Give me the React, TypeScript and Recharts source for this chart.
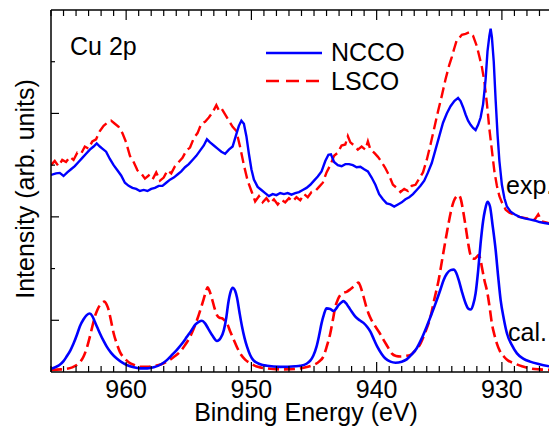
import React from 'react';
import { LineChart, Line, XAxis, YAxis, Customized } from 'recharts';

// binding energy (eV) / intensity pairs
const nccoExpE = [966.0, 965.6, 965.3, 965.0, 964.7, 964.4, 964.1, 963.8, 963.5, 963.2, 962.9, 962.6, 962.35, 962.1, 961.9, 961.6, 961.3, 961.0, 960.7, 960.4, 960.1, 959.8, 959.5, 959.2, 958.9, 958.6, 958.3, 958.0, 957.7, 957.4, 957.1, 956.8, 956.5, 956.2, 955.9, 955.6, 955.3, 955.0, 954.7, 954.4, 954.1, 953.8, 953.55, 953.3, 953.0, 952.7, 952.4, 952.1, 951.8, 951.5, 951.25, 951.0, 950.8, 950.6, 950.4, 950.2, 950.0, 949.8, 949.5, 949.2, 948.9, 948.6, 948.3, 948.0, 947.7, 947.4, 947.1, 946.8, 946.5, 946.2, 945.9, 945.6, 945.3, 945.0, 944.7, 944.4, 944.1, 943.85, 943.65, 943.4, 943.1, 942.8, 942.5, 942.2, 941.9, 941.6, 941.3, 941.0, 940.7, 940.4, 940.1, 939.8, 939.5, 939.2, 938.9, 938.6, 938.3, 938.0, 937.7, 937.4, 937.1, 936.8, 936.5, 936.2, 935.9, 935.6, 935.3, 935.0, 934.7, 934.4, 934.1, 933.8, 933.5, 933.3, 933.1, 932.9, 932.7, 932.5, 932.3, 932.1, 931.9, 931.7, 931.5, 931.3, 931.15, 931.0, 930.9, 930.8, 930.65, 930.5, 930.35, 930.2, 930.0, 929.8, 929.6, 929.3, 929.0, 928.6, 928.2, 927.8, 927.4, 927.0, 926.6, 926.0];
const nccoExpI = [3.81, 3.84, 3.85, 3.79, 3.86, 3.92, 3.98, 4.06, 4.14, 4.22, 4.30, 4.36, 4.42, 4.36, 4.32, 4.26, 4.12, 4.00, 3.90, 3.80, 3.66, 3.60, 3.56, 3.54, 3.50, 3.52, 3.50, 3.54, 3.56, 3.60, 3.60, 3.66, 3.72, 3.76, 3.82, 3.88, 3.96, 4.02, 4.10, 4.18, 4.28, 4.38, 4.50, 4.44, 4.38, 4.32, 4.26, 4.22, 4.30, 4.36, 4.56, 4.76, 4.86, 4.80, 4.56, 4.22, 3.92, 3.72, 3.58, 3.52, 3.46, 3.40, 3.44, 3.42, 3.46, 3.44, 3.46, 3.43, 3.46, 3.48, 3.52, 3.56, 3.62, 3.70, 3.78, 3.88, 4.08, 4.20, 4.21, 4.06, 4.00, 3.98, 4.02, 4.02, 4.00, 3.96, 3.97, 3.92, 3.88, 3.76, 3.62, 3.44, 3.34, 3.26, 3.24, 3.20, 3.24, 3.28, 3.34, 3.38, 3.44, 3.52, 3.60, 3.70, 3.86, 4.04, 4.30, 4.56, 4.82, 5.00, 5.14, 5.24, 5.30, 5.24, 5.12, 4.98, 4.86, 4.78, 4.72, 4.68, 4.78, 4.92, 5.18, 5.66, 6.20, 6.50, 6.64, 6.48, 6.00, 5.26, 4.60, 4.08, 3.62, 3.36, 3.20, 3.10, 3.05, 3.00, 2.97, 2.95, 2.93, 2.90, 2.88, 2.86];

const lscoExpE = [966.0, 965.7, 965.4, 965.1, 964.8, 964.5, 964.2, 963.9, 963.6, 963.3, 963.0, 962.7, 962.4, 962.1, 961.8, 961.5, 961.2, 960.9, 960.6, 960.3, 960.0, 959.7, 959.4, 959.1, 958.8, 958.5, 958.2, 957.9, 957.6, 957.3, 957.0, 956.7, 956.4, 956.1, 955.8, 955.5, 955.2, 954.9, 954.6, 954.3, 954.0, 953.7, 953.4, 953.1, 952.8, 952.6, 952.4, 952.1, 951.8, 951.5, 951.2, 950.9, 950.6, 950.3, 950.0, 949.7, 949.4, 949.1, 948.8, 948.5, 948.2, 947.9, 947.6, 947.3, 947.0, 946.7, 946.4, 946.1, 945.8, 945.5, 945.2, 944.9, 944.6, 944.3, 944.0, 943.7, 943.4, 943.1, 942.8, 942.5, 942.3, 942.1, 941.8, 941.5, 941.2, 940.9, 940.7, 940.5, 940.2, 939.9, 939.6, 939.3, 939.0, 938.7, 938.4, 938.1, 937.8, 937.5, 937.2, 936.9, 936.6, 936.3, 936.0, 935.7, 935.4, 935.1, 934.8, 934.5, 934.2, 934.0, 933.8, 933.6, 933.4, 933.2, 932.9, 932.6, 932.3, 932.0, 931.8, 931.6, 931.4, 931.2, 931.0, 930.8, 930.6, 930.4, 930.2, 930.0, 929.7, 929.4, 929.0, 928.6, 928.2, 927.8, 927.4, 927.1, 926.8, 926.4, 926.0];
const lscoExpI = [4.00, 4.08, 3.98, 4.10, 4.06, 4.16, 4.10, 4.24, 4.22, 4.36, 4.32, 4.46, 4.50, 4.66, 4.76, 4.82, 4.86, 4.80, 4.74, 4.62, 4.44, 4.18, 4.06, 3.90, 3.84, 3.74, 3.80, 3.72, 3.86, 3.70, 3.76, 3.90, 3.84, 3.98, 4.06, 4.14, 4.28, 4.34, 4.52, 4.62, 4.80, 4.84, 4.92, 5.02, 5.16, 5.06, 5.10, 4.98, 4.86, 4.74, 4.66, 4.35, 4.00, 3.70, 3.50, 3.30, 3.40, 3.28, 3.36, 3.26, 3.34, 3.24, 3.33, 3.28, 3.36, 3.30, 3.38, 3.32, 3.44, 3.38, 3.48, 3.50, 3.58, 3.66, 3.86, 4.00, 4.18, 4.24, 4.38, 4.40, 4.56, 4.44, 4.38, 4.30, 4.36, 4.30, 4.46, 4.30, 4.24, 4.16, 4.06, 3.94, 3.80, 3.62, 3.56, 3.48, 3.54, 3.50, 3.60, 3.62, 3.74, 3.86, 4.10, 4.40, 4.72, 5.04, 5.34, 5.66, 5.94, 6.09, 6.26, 6.42, 6.46, 6.52, 6.54, 6.57, 6.50, 6.30, 6.10, 5.90, 5.62, 5.20, 4.70, 4.29, 3.88, 3.60, 3.40, 3.28, 3.14, 3.08, 3.04, 3.00, 2.98, 2.96, 2.94, 3.05, 2.91, 2.89, 2.86];

const nccoCalE = [966.0, 965.6, 965.3, 965.0, 964.75, 964.45, 964.2, 963.9, 963.7, 963.4, 963.15, 962.9, 962.7, 962.5, 962.3, 962.1, 961.8, 961.55, 961.2, 960.75, 960.3, 959.95, 959.4, 958.9, 958.3, 957.8, 957.2, 956.75, 956.3, 955.95, 955.5, 955.15, 954.8, 954.5, 954.2, 953.95, 953.7, 953.45, 953.1, 952.75, 952.45, 952.2, 952.0, 951.85, 951.65, 951.5, 951.3, 951.15, 950.95, 950.75, 950.55, 950.35, 950.1, 949.85, 949.3, 948.75, 947.7, 946.5, 946.1, 945.6, 945.3, 945.05, 944.8, 944.6, 944.4, 944.2, 944.0, 943.7, 943.45, 943.25, 943.05, 942.8, 942.65, 942.45, 942.25, 942.0, 941.7, 941.35, 941.05, 940.75, 940.5, 940.2, 939.95, 939.6, 939.3, 938.9, 938.5, 938.0, 937.6, 937.2, 936.8, 936.4, 936.0, 935.6, 935.2, 934.9, 934.65, 934.4, 934.1, 933.85, 933.65, 933.45, 933.2, 932.9, 932.7, 932.5, 932.3, 932.1, 931.9, 931.7, 931.5, 931.35, 931.15, 930.95, 930.75, 930.5, 930.3, 930.1, 929.85, 929.6, 929.2, 928.8, 928.3, 927.75, 927.0, 926.0];
const nccoCalI = [0.06, 0.10, 0.14, 0.21, 0.30, 0.42, 0.55, 0.74, 0.88, 1.02, 1.10, 1.13, 1.08, 0.97, 0.86, 0.75, 0.60, 0.49, 0.37, 0.26, 0.18, 0.135, 0.09, 0.07, 0.07, 0.09, 0.15, 0.23, 0.34, 0.43, 0.56, 0.68, 0.80, 0.91, 0.97, 0.99, 0.94, 0.84, 0.70, 0.60, 0.66, 0.81, 1.06, 1.33, 1.56, 1.63, 1.57, 1.44, 1.15, 0.88, 0.66, 0.49, 0.33, 0.23, 0.15, 0.12, 0.10, 0.11, 0.12, 0.16, 0.22, 0.32, 0.49, 0.70, 0.94, 1.12, 1.23, 1.22, 1.18, 1.22, 1.29, 1.35, 1.37, 1.33, 1.26, 1.17, 1.07, 1.00, 0.95, 0.87, 0.78, 0.62, 0.49, 0.35, 0.26, 0.20, 0.18, 0.20, 0.245, 0.34, 0.46, 0.65, 0.88, 1.13, 1.39, 1.60, 1.78, 1.90, 1.97, 1.98, 1.92, 1.78, 1.56, 1.33, 1.23, 1.21, 1.30, 1.52, 1.95, 2.49, 2.92, 3.13, 3.29, 3.20, 2.85, 2.36, 1.85, 1.39, 1.03, 0.75, 0.52, 0.36, 0.26, 0.20, 0.15, 0.10];

const lscoCalE = [966.0, 965.2, 964.75, 964.3, 963.95, 963.65, 963.4, 963.15, 962.9, 962.7, 962.5, 962.3, 962.1, 961.9, 961.75, 961.55, 961.4, 961.2, 961.0, 960.75, 960.5, 960.15, 959.8, 959.3, 958.9, 958.3, 957.8, 957.2, 956.75, 956.2, 955.7, 955.3, 954.9, 954.6, 954.35, 954.05, 953.8, 953.6, 953.5, 953.35, 953.15, 952.95, 952.75, 952.55, 952.35, 952.15, 951.95, 951.7, 951.4, 951.15, 950.9, 950.5, 950.1, 949.5, 948.75, 947.5, 946.1, 945.5, 945.05, 944.6, 944.25, 944.0, 943.7, 943.5, 943.3, 943.1, 942.9, 942.65, 942.4, 942.1, 941.85, 941.6, 941.45, 941.3, 941.05, 940.85, 940.65, 940.4, 940.1, 939.75, 939.45, 939.1, 938.8, 938.45, 938.1, 937.7, 937.3, 936.9, 936.5, 936.1, 935.7, 935.4, 935.05, 934.75, 934.5, 934.3, 934.1, 933.85, 933.6, 933.45, 933.3, 933.1, 932.9, 932.7, 932.55, 932.4, 932.2, 932.0, 931.85, 931.7, 931.6, 931.4, 931.15, 930.95, 930.8, 930.6, 930.4, 930.15, 929.85, 929.5, 929.05, 928.4, 927.75, 927.0, 926.0];
const lscoCalI = [0.04, 0.05, 0.06, 0.09, 0.135, 0.20, 0.30, 0.46, 0.68, 0.88, 1.07, 1.20, 1.29, 1.34, 1.36, 1.30, 1.20, 0.98, 0.75, 0.55, 0.39, 0.27, 0.19, 0.13, 0.10, 0.10, 0.115, 0.15, 0.20, 0.29, 0.39, 0.52, 0.68, 0.84, 1.00, 1.22, 1.42, 1.58, 1.64, 1.57, 1.42, 1.24, 1.10, 1.05, 1.04, 1.00, 0.94, 0.79, 0.62, 0.48, 0.36, 0.24, 0.17, 0.10, 0.07, 0.05, 0.07, 0.10, 0.135, 0.20, 0.30, 0.48, 0.75, 1.00, 1.26, 1.40, 1.49, 1.53, 1.55, 1.60, 1.65, 1.71, 1.73, 1.66, 1.46, 1.28, 1.13, 1.00, 0.88, 0.75, 0.62, 0.48, 0.36, 0.31, 0.30, 0.31, 0.33, 0.42, 0.55, 0.78, 1.07, 1.40, 1.78, 2.20, 2.55, 2.82, 3.07, 3.30, 3.40, 3.42, 3.36, 3.12, 2.82, 2.50, 2.30, 2.20, 2.19, 2.23, 2.26, 2.16, 2.03, 1.78, 1.52, 1.20, 0.94, 0.72, 0.55, 0.40, 0.30, 0.22, 0.17, 0.11, 0.07, 0.05, 0.04];

const seriesNames = ['NCCO', 'LSCO'];
const xDomain = [926, 966];
const yTicks = [1, 2, 3, 4, 5, 6];
const yDomain = [0, 7];

const BLUE = '#0000ff';
const RED = '#ff0000';
const FONT = '"Liberation Sans", Arial, sans-serif';

const toRows = (e: number[], v: number[]) => e.map((x, i) => ({ e: x, v: v[i] }));

// one tick per eV, labelled every 10
const xTicks = Array.from({ length: xDomain[1] - xDomain[0] + 1 }, (_, i) => xDomain[0] + i);

const BottomTick = (props: any) => {
  const { x, y, payload } = props;
  const major = payload.value % 10 === 0;
  return (
    <g>
      <line x1={x} x2={x} y1={y} y2={y - (major ? 10 : 6)} stroke="#000" strokeWidth={1.2} />
      {major && (
        <text x={x} y={y + 26} textAnchor="middle" fontSize={25} fontFamily={FONT} fill="#000">
          {payload.value}
        </text>
      )}
    </g>
  );
};

const TopTick = (props: any) => {
  const { x, y, payload } = props;
  const major = payload.value % 10 === 0;
  return <line x1={x} x2={x} y1={y} y2={y + (major ? 10 : 6)} stroke="#000" strokeWidth={1.2} />;
};

const LeftTick = (props: any) => {
  const { x, y, payload } = props;
  const major = payload.value % 2 === 1;
  return <line x1={x} x2={x + (major ? 8 : 4)} y1={y} y2={y} stroke="#000" strokeWidth={1.2} />;
};

const RightTick = (props: any) => {
  const { x, y, payload } = props;
  const major = payload.value % 2 === 1;
  return <line x1={x} x2={x - (major ? 8 : 4)} y1={y} y2={y} stroke="#000" strokeWidth={1.2} />;
};

const Labels = () => (
  <g fontFamily={FONT} fontSize={25} fill="#000">
    <text x={70} y={55}>Cu 2p</text>
    <line x1={266} x2={322} y1={53} y2={53} stroke={BLUE} strokeWidth={2.6} />
    <text x={331} y={61}>{seriesNames[0]}</text>
    <line x1={266} x2={322} y1={81} y2={81} stroke={RED} strokeWidth={2.6} strokeDasharray="13 7" />
    <text x={331} y={90}>{seriesNames[1]}</text>
    <text x={506} y={194}>exp.</text>
    <text x={508} y={341}>cal.</text>
    <text x={306} y={421} textAnchor="middle">Binding Energy (eV)</text>
    <text x={34} y={189} textAnchor="middle" transform="rotate(-90 34 189)">Intensity (arb. units)</text>
  </g>
);

export default function App() {
  return (
    <div style={{ position: 'absolute', left: 0, top: 0, width: 549, height: 428, overflow: 'hidden', background: '#fff' }}>
      <LineChart width={562} height={428} margin={{ top: 9, right: 0, bottom: 0, left: 0 }}>
        <XAxis xAxisId="b" dataKey="e" type="number" domain={xDomain} reversed allowDataOverflow
          ticks={xTicks} interval={0} tick={<BottomTick />} tickLine={false} tickSize={0} tickMargin={0}
          height={56} axisLine={{ stroke: '#000', strokeWidth: 1.5 }} />
        <XAxis xAxisId="t" orientation="top" dataKey="e" type="number" domain={xDomain} reversed allowDataOverflow
          ticks={xTicks} interval={0} tick={<TopTick />} tickLine={false} tickSize={0} tickMargin={0}
          height={1} axisLine={{ stroke: '#000', strokeWidth: 1.5 }} />
        <YAxis yAxisId="l" type="number" domain={yDomain} ticks={yTicks} interval={0} tick={<LeftTick />}
          tickLine={false} tickSize={0} tickMargin={0} width={51} axisLine={{ stroke: '#000', strokeWidth: 1.5 }} />
        <YAxis yAxisId="r" orientation="right" type="number" domain={yDomain} ticks={yTicks} interval={0} tick={<RightTick />}
          tickLine={false} tickSize={0} tickMargin={0} width={10} axisLine={{ stroke: '#000', strokeWidth: 1.5 }} />

        <Line data={toRows(lscoCalE, lscoCalI)} xAxisId="b" yAxisId="l" dataKey="v" type="monotone"
          stroke={RED} strokeWidth={2.6} strokeDasharray="11 5" dot={false} isAnimationActive={false} />
        <Line data={toRows(nccoCalE, nccoCalI)} xAxisId="b" yAxisId="l" dataKey="v" type="monotone"
          stroke={BLUE} strokeWidth={2.6} dot={false} isAnimationActive={false} />
        <Line data={toRows(lscoExpE, lscoExpI)} xAxisId="b" yAxisId="l" dataKey="v" type="linear"
          stroke={RED} strokeWidth={2.4} strokeDasharray="11 5" dot={false} isAnimationActive={false} />
        <Line data={toRows(nccoExpE, nccoExpI)} xAxisId="b" yAxisId="l" dataKey="v" type="linear"
          stroke={BLUE} strokeWidth={2.4} dot={false} isAnimationActive={false} />
        <Customized component={Labels} />
      </LineChart>
    </div>
  );
}
